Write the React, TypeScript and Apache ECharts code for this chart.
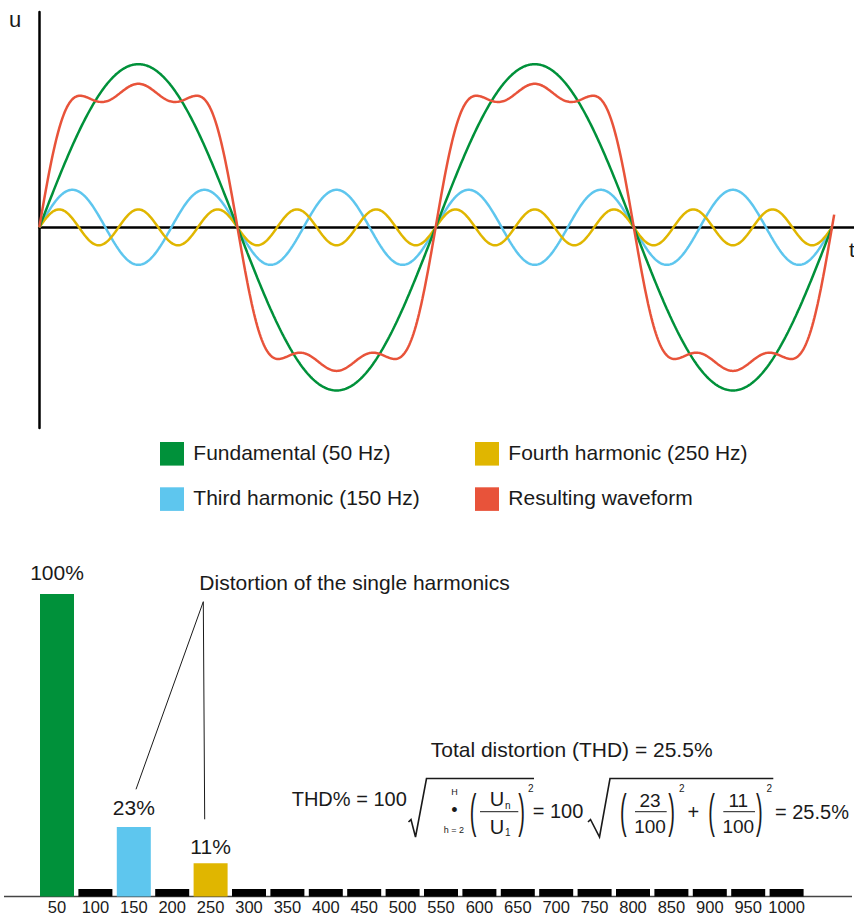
import React, { useEffect, useRef } from 'react';
import * as echarts from 'echarts';

// ---- data ----
const frequencyLabels = ['50', '100', '150', '200', '250', '300', '350', '400', '450', '500', '550', '600', '650', '700', '750', '800', '850', '900', '950', '1000'];
const harmonicShare = [100, 2.5, 23, 2.5, 11, 2.5, 2.5, 2.5, 2.5, 2.5, 2.5, 2.5, 2.5, 2.5, 2.5, 2.5, 2.5, 2.5, 2.5, 2.5];

const waveNames = ['Fundamental (50 Hz)', 'Third harmonic (150 Hz)', 'Fourth harmonic (250 Hz)'];
const waveOrders = [1, 3, 5];
const waveAmplitudes = [100, 23, 11];
const resultName = 'Resulting waveform';

const axisTitles = ['u', 't'];
const annotation = 'Distortion of the single harmonics';
const thdTitle = 'Total distortion (THD) = 25.5%';

// ---- styles ----
const FONT = '"Liberation Sans", Arial, Helvetica, sans-serif';
const INK = '#1a1a1a';
const waveColors = ['#00913a', '#5ec6ee', '#e0b600'];
const resultColor = '#e8533a';
const barHighlight: Record<string, string> = { '50': '#00913a', '150': '#5ec6ee', '250': '#e0b600' };
const labelDistance: Record<number, number> = { 100: 11.5, 23: 9, 11: 6 };

function buildWaves() {
  const angles: number[] = [];
  for (let d = 0; d <= 722; d += 1) angles.push(d);
  const single = waveOrders.map((order, k) =>
    angles.filter((a) => a <= 720).map((a) => [a, waveAmplitudes[k] * Math.sin((order * a * Math.PI) / 180)])
  );
  const result = angles.map((a) => [
    a,
    waveOrders.reduce((s, order, k) => s + waveAmplitudes[k] * Math.sin((order * a * Math.PI) / 180), 0),
  ]);
  return { single, result };
}

function txt(text: string, x: number, y: number, size: number, align: string = 'left', extra: any = {}) {
  return {
    type: 'text',
    x,
    y,
    silent: true,
    ...extra,
    style: { text, fontSize: size, fontFamily: FONT, fill: INK, align, verticalAlign: 'middle', ...(extra.style || {}) },
  };
}

function paren(ch: string, x: number) {
  return {
    type: 'text',
    x,
    y: 811,
    scaleY: 2.3,
    silent: true,
    style: { text: ch, fontSize: 20, fontFamily: FONT, fill: INK, align: 'center', verticalAlign: 'middle' },
  };
}

function line(x1: number, y1: number, x2: number, y2: number, w = 1) {
  return { type: 'line', silent: true, shape: { x1, y1, x2, y2 }, style: { stroke: INK, lineWidth: w } };
}

export default function App() {
  const ref = useRef<HTMLDivElement>(null);

  useEffect(() => {
    if (!ref.current) return;
    const chart = echarts.init(ref.current, null, { renderer: 'svg' });
    const { single, result } = buildWaves();

    const lineSeries: any[] = [];
    const drawOrder = [1, 2, 0];
    drawOrder.forEach((k) => {
      lineSeries.push({
        name: waveNames[k],
        type: 'line',
        xAxisIndex: 0,
        yAxisIndex: 0,
        data: single[k],
        symbol: 'none',
        lineStyle: { color: waveColors[k], width: 2.5 },
        itemStyle: { color: waveColors[k] },
        silent: true,
      });
    });
    lineSeries.push({
      name: resultName,
      type: 'line',
      xAxisIndex: 0,
      yAxisIndex: 0,
      data: result,
      symbol: 'none',
      clip: false,
      lineStyle: { color: resultColor, width: 2.5 },
      itemStyle: { color: resultColor },
      silent: true,
    });

    const legendItems = [
      { name: waveNames[0], color: waveColors[0], x: 160, y: 442 },
      { name: waveNames[1], color: waveColors[1], x: 160, y: 487.3 },
      { name: waveNames[2], color: waveColors[2], x: 475, y: 442 },
      { name: resultName, color: resultColor, x: 475, y: 487.3 },
    ];
    const legendGraphics: any[] = [];
    legendItems.forEach((it) => {
      legendGraphics.push({ type: 'rect', silent: true, shape: { x: it.x, y: it.y, width: 24, height: 23.6 }, style: { fill: it.color } });
      legendGraphics.push(txt(it.name, it.x + 33.3, it.y + 10.5, 21));
    });

    const formula: any[] = [
      txt(thdTitle, 430.7, 749.7, 21),
      txt('THD% = 100', 291.7, 799, 20),
      { type: 'polyline', silent: true, shape: { points: [[408.5, 822], [411, 819.5], [415.5, 837], [426.5, 778.5], [534, 778.5]] }, style: { stroke: INK, lineWidth: 1.6, fill: null } },
      txt('H', 454.5, 791.7, 9, 'center'),
      txt('•', 454.5, 810, 18, 'center'),
      txt('h = 2', 454, 830, 9, 'center'),
      paren('(', 473),
      txt('U', 497, 799, 20, 'center'),
      txt('n', 505, 805, 10, 'left'),
      line(480, 811.7, 518.3, 811.7, 1),
      txt('U', 497, 826.7, 20, 'center'),
      txt('1', 505, 832, 10, 'left'),
      paren(')', 521.7),
      txt('2', 530.7, 788.3, 10, 'center'),
      txt('= 100', 583.3, 811, 20, 'right'),
      { type: 'polyline', silent: true, shape: { points: [[588, 822], [590.5, 819.5], [599.5, 837], [610, 778.5], [773.3, 778.5]] }, style: { stroke: INK, lineWidth: 1.6, fill: null } },
      paren('(', 623.3),
      txt('23', 650, 800, 19, 'center'),
      line(635, 811.7, 666.7, 811.7, 1),
      txt('100', 650, 826.7, 19, 'center'),
      paren(')', 671.7),
      txt('2', 681.7, 788, 10, 'center'),
      txt('+', 693.3, 811.7, 20, 'center'),
      paren('(', 711.7),
      txt('11', 738.3, 800, 19, 'center'),
      line(723.3, 811.7, 755, 811.7, 1),
      txt('100', 738.3, 826.7, 19, 'center'),
      paren(')', 759.3),
      txt('2', 769.3, 788, 10, 'center'),
      txt('= 25.5%', 775, 811.7, 20, 'left'),
    ];

    const option: any = {
      animation: false,
      textStyle: { fontFamily: FONT },
      grid: [
        { left: 39.3, top: 12, width: 814.7, height: 416, containLabel: false },
        { left: 37.8, top: 594, width: 768, height: 302.5, containLabel: false },
      ],
      xAxis: [
        {
          type: 'value',
          gridIndex: 0,
          min: 0,
          max: 740,
          axisLine: { show: true, onZero: true, lineStyle: { color: '#000', width: 2.5 } },
          axisTick: { show: false },
          axisLabel: { show: false },
          splitLine: { show: false },
        },
        {
          type: 'category',
          gridIndex: 1,
          data: frequencyLabels,
          axisLine: { show: false },
          axisTick: { show: false },
          axisLabel: { interval: 0, fontFamily: FONT, fontSize: 16.5, color: INK, margin: 1.8 },
          splitLine: { show: false },
        },
      ],
      yAxis: [
        {
          type: 'value',
          gridIndex: 0,
          min: -123,
          max: 132,
          axisLine: { show: true, onZero: true, lineStyle: { color: '#000', width: 2.5 } },
          axisTick: { show: false },
          axisLabel: { show: false },
          splitLine: { show: false },
        },
        { type: 'value', gridIndex: 1, min: 0, max: 100, show: false, splitLine: { show: false } },
      ],
      series: [
        ...lineSeries,
        {
          name: 'Harmonic share',
          type: 'bar',
          xAxisIndex: 1,
          yAxisIndex: 1,
          barWidth: 34,
          silent: true,
          data: harmonicShare.map((v, i) => ({
            value: v,
            itemStyle: { color: barHighlight[frequencyLabels[i]] || '#000' },
            label:
              v > 5
                ? { show: true, position: 'top', distance: labelDistance[v] ?? 8, formatter: '{c}%', fontSize: 21, color: INK, fontFamily: FONT }
                : { show: false },
          })),
        },
      ],
      graphic: [
        txt(axisTitles[0], 9, 19.3, 22),
        txt(axisTitles[1], 849, 249.7, 21),
        ...legendGraphics,
        txt(annotation, 199.3, 582.5, 21),
        line(203.3, 601.7, 136, 789.3, 1),
        line(203.3, 601.7, 204.7, 819.3, 1),
        { type: 'line', silent: true, shape: { x1: 4, y1: 896.6, x2: 852, y2: 896.6 }, style: { stroke: '#444', lineWidth: 1.5 } },
        ...formula,
      ],
    };

    chart.setOption(option);
    return () => chart.dispose();
  }, []);

  return <div ref={ref} style={{ position: 'fixed', left: 0, top: 0, width: 854, height: 924, background: '#fff' }} />;
}
